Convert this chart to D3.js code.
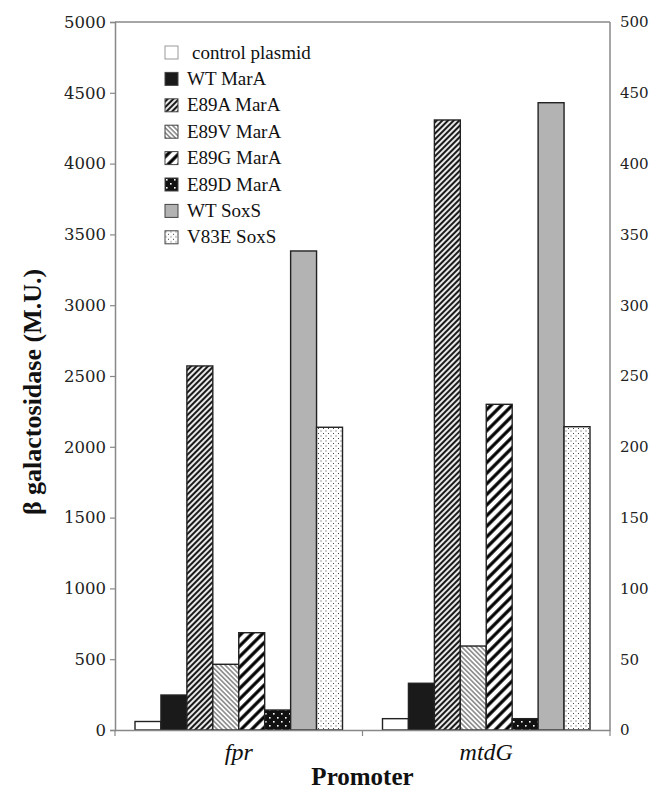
<!DOCTYPE html>
<html><head><meta charset="utf-8">
<script src="https://cdn.jsdelivr.net/npm/d3@7"></script>
<style>body{margin:0;background:#fff}</style>
</head><body>
<svg id="chart" width="655" height="794"></svg>
<script>
const categories = ["fpr", "mtdG"];
const seriesNames = ["control plasmid","WT MarA","E89A MarA","E89V MarA","E89G MarA","E89D MarA","WT SoxS","V83E SoxS"];
const fprValues  = [60, 247, 2571, 464, 687, 141, 3383, 2138];
const mtdGValues = [80, 330, 4308, 593, 2300, 80, 4430, 2142];
const leftTicks  = [0,500,1000,1500,2000,2500,3000,3500,4000,4500,5000];
const rightTicks = [0,50,100,150,200,250,300,350,400,450,500];
const fills = ["#ffffff","#1a1a1a","url(#pA)","url(#pV)","url(#pG)","url(#pD)","#b3b3b3","url(#pS)"];

const svg = d3.select("#chart");
const M = {l:115, r:610, t:22, b:730};
const defs = svg.append("defs");
function stripe(id, w, sw, rot, col, bg){
  const p = defs.append("pattern").attr("id",id).attr("patternUnits","userSpaceOnUse")
    .attr("width",w).attr("height",w).attr("patternTransform",`rotate(${rot})`);
  p.append("rect").attr("width",w).attr("height",w).attr("fill",bg);
  p.append("line").attr("x1",w/2).attr("x2",w/2).attr("y1",0).attr("y2",w).attr("stroke",col).attr("stroke-width",sw);
}
stripe("pA", 4, 2.2, 45, "#1a1a1a", "#fff");
stripe("pV", 3.4, 1.0, -45, "#444", "#fff");
stripe("pG", 7.5, 3.2, 45, "#000", "#fff");
(function(){
  const p = defs.append("pattern").attr("id","pD").attr("patternUnits","userSpaceOnUse").attr("width",8).attr("height",8);
  p.append("rect").attr("width",8).attr("height",8).attr("fill","#111");
  p.append("rect").attr("x",1).attr("y",1).attr("width",1.6).attr("height",1.6).attr("fill","#fff");
  p.append("rect").attr("x",5).attr("y",5).attr("width",1.6).attr("height",1.6).attr("fill","#fff");
  const q = defs.append("pattern").attr("id","pS").attr("patternUnits","userSpaceOnUse").attr("width",5).attr("height",5);
  q.append("rect").attr("width",5).attr("height",5).attr("fill","#fff");
  q.append("rect").attr("x",0.5).attr("y",0.5).attr("width",1).attr("height",1).attr("fill","#444");
  q.append("rect").attr("x",3).attr("y",3).attr("width",1).attr("height",1).attr("fill","#444");
})();

const x0 = d3.scaleBand().domain(categories).range([M.l, M.r]).paddingInner(0).paddingOuter(0);
const x1 = d3.scaleBand().domain(seriesNames).range([20, x0.bandwidth()-20]).padding(0);
const y = d3.scaleLinear().domain([0,5000]).range([M.b, M.t]);
const y2 = d3.scaleLinear().domain([0,500]).range([M.b, M.t]);

const data = categories.map((c,i)=>({cat:c, vals:(i===0?fprValues:mtdGValues)}));

// frame
svg.append("line").attr("x1",M.l).attr("x2",M.r).attr("y1",M.t).attr("y2",M.t).attr("stroke","#888").attr("stroke-width",1.5);
svg.append("line").attr("x1",M.r).attr("x2",M.r).attr("y1",M.t).attr("y2",M.b).attr("stroke","#888").attr("stroke-width",1.5);

// bars
data.forEach(d=>{
  svg.append("g").selectAll("rect").data(d.vals).join("rect")
    .attr("x",(v,j)=>x0(d.cat)+x1(seriesNames[j]))
    .attr("y",v=>y(v))
    .attr("width",x1.bandwidth())
    .attr("height",v=>M.b-y(v))
    .attr("fill",(v,j)=>fills[j])
    .attr("stroke","#222").attr("stroke-width",1.4);
});

// left axis
const ga = svg.append("g").attr("transform",`translate(${M.l},0)`)
  .call(d3.axisLeft(y).tickValues(leftTicks).tickSize(5).tickPadding(4).tickFormat(d3.format("d")));
ga.attr("font-family",null);
ga.select(".domain").attr("stroke","#888").attr("stroke-width",1.5);
ga.selectAll(".tick line").attr("stroke","#888").attr("stroke-width",1.2);
ga.selectAll("text").style("font-family","'DejaVu Serif', serif").style("font-size","16.5px").attr("fill","#222");

// right axis
const gr = svg.append("g").attr("transform",`translate(${M.r},0)`)
  .call(d3.axisRight(y2).tickValues(rightTicks).tickSize(0).tickPadding(10).tickFormat(d3.format("d")));
gr.attr("font-family",null);
gr.select(".domain").remove();
gr.selectAll("text").style("font-family","'DejaVu Serif', serif").style("font-size","15px").attr("fill","#222");

// bottom axis
const gb = svg.append("g").attr("transform",`translate(0,${M.b})`)
  .call(d3.axisBottom(x0).tickSize(0).tickPadding(13));
gb.attr("font-family",null);
gb.select(".domain").attr("stroke","#888").attr("stroke-width",1.5);
gb.selectAll("text").style("font-family","'Liberation Serif', serif").style("font-style","italic").style("font-size","24px").attr("fill","#111");
svg.append("g").selectAll("line").data([M.l, x0("mtdG"), M.r]).join("line")
  .attr("x1",d=>d).attr("x2",d=>d).attr("y1",M.b).attr("y2",M.b+6).attr("stroke","#888").attr("stroke-width",1.2);

// axis titles
svg.append("text").attr("transform",`translate(41,${(M.t+M.b)/2+16}) rotate(-90)`)
  .attr("text-anchor","middle").style("font-family","'Liberation Serif', serif").style("font-weight","bold")
  .style("font-size","26px").attr("fill","#111").text("β galactosidase (M.U.)");
svg.append("text").attr("x",(M.l+M.r)/2).attr("y",785).attr("text-anchor","middle")
  .style("font-family","'Liberation Serif', serif").style("font-weight","bold").style("font-size","25px").attr("fill","#111").text("Promoter");

// legend
const lg = svg.append("g").attr("transform","translate(165,46)");
const rows = lg.selectAll("g").data(seriesNames).join("g").attr("transform",(d,i)=>`translate(0,${i*26.4})`);
rows.append("rect").attr("width",13).attr("height",13).attr("fill",(d,i)=>fills[i]).attr("stroke",(d,i)=>i===0?"#999":"#444").attr("stroke-width",1);
rows.append("text").attr("x",(d,i)=>i===0?27:22).attr("y",12.5).style("font-family","'Liberation Serif', serif").style("font-size","19px").attr("fill","#111").text(d=>d);
</script>
</body></html>
